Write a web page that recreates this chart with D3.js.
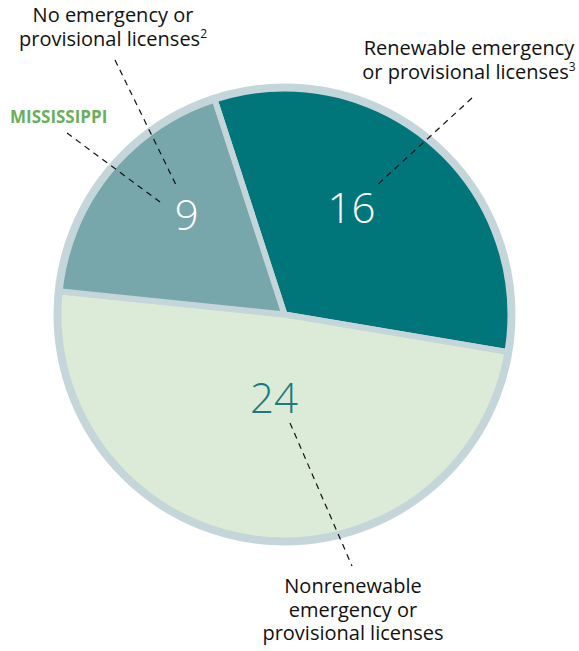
<!DOCTYPE html>
<html>
<head>
<meta charset="utf-8">
<script src="https://cdn.jsdelivr.net/npm/d3@7"></script>
<style>
  html, body { margin: 0; padding: 0; background: #ffffff; }
  svg { display: block; }
  text { font-family: "Open Sans", "Noto Sans", sans-serif; }
</style>
</head>
<body>
<svg id="chart" width="579" height="651"></svg>
<script>
// ---- data ----
const categories = [
  "Renewable emergency or provisional licenses",
  "Nonrenewable emergency or provisional licenses",
  "No emergency or provisional licenses"
];
const values = [16, 24, 9];
const sliceColors = ["#00757a", "#dcebd7", "#77a6ab"];
const valueColors = ["#ffffff", "#1a7a80", "#ffffff"];
const stateName = "MISSISSIPPI";

// ---- layout ----
const W = 579, H = 651;
const cx = 284.5, cy = 314.5;
const R = 227;           // radius of the fill + ring centre
const ringW = 8;
const ringColor = "#c5d6db";

const svg = d3.select("#chart");
const g = svg.append("g").attr("transform", `translate(${cx},${cy})`);

const pie = d3.pie().sort(null).value(d => d)
  .startAngle(-18 * Math.PI / 180)
  .endAngle(2 * Math.PI - 18 * Math.PI / 180);
const arcs = pie(values);
const arc = d3.arc().innerRadius(0).outerRadius(R);

g.selectAll("path.slice")
  .data(arcs)
  .enter().append("path")
  .attr("class", "slice")
  .attr("d", arc)
  .attr("fill", (d, i) => sliceColors[i])
  .attr("stroke", ringColor)
  .attr("stroke-width", 6)
  .attr("stroke-linejoin", "round");

// outer ring
g.append("circle")
  .attr("r", R)
  .attr("fill", "none")
  .attr("stroke", ringColor)
  .attr("stroke-width", ringW);

// value labels: placed along each slice at a chosen angle offset/radius
const labelPlace = [
  { da: -8.6, r: 126 },
  { da: -0.5, r: 84 },
  { da: 6.7, r: 140 }
];
arcs.forEach((d, i) => {
  const mid = (d.startAngle + d.endAngle) / 2 + labelPlace[i].da * Math.PI / 180;
  const x = Math.sin(mid) * labelPlace[i].r;
  const y = -Math.cos(mid) * labelPlace[i].r;
  g.append("text")
    .attr("x", x)
    .attr("y", y)
    .attr("dy", "0.36em")
    .attr("text-anchor", "middle")
    .attr("font-size", 42)
    .attr("font-weight", 300)
    .attr("fill", valueColors[i])
    .text(values[i]);
});

// leader lines (dashed)
const leaders = [
  [[472, 98], [375, 187]],
  [[290, 423], [352, 566]],
  [[115, 60], [177, 187]],
  [[67, 133], [160, 202]]
];
svg.selectAll("line.leader")
  .data(leaders)
  .enter().append("line")
  .attr("class", "leader")
  .attr("x1", d => d[0][0]).attr("y1", d => d[0][1])
  .attr("x2", d => d[1][0]).attr("y2", d => d[1][1])
  .attr("stroke", "#111")
  .attr("stroke-width", 1.2)
  .attr("stroke-dasharray", "6,5");

// category labels
function multiline(x, y0, lines, sup) {
  const t = svg.append("text")
    .attr("text-anchor", "middle")
    .attr("font-size", 20)
    .attr("fill", "#111");
  lines.forEach((ln, k) => {
    const ts = t.append("tspan").attr("x", x).attr("y", y0 + k * 23.5).text(ln);
    if (sup && k === lines.length - 1) {
      t.append("tspan").attr("font-size", 12).attr("dy", -8).text(sup);
    }
  });
  return t;
}
multiline(113, 22, ["No emergency or", "provisional licenses"], "2");
multiline(469, 55, ["Renewable emergency", "or provisional licenses"], "3");
multiline(353, 593, ["Nonrenewable", "emergency or", "provisional licenses"], null);

svg.append("text")
  .attr("x", 10)
  .attr("y", 123)
  .attr("font-size", 17)
  .attr("font-weight", 700)
  .attr("fill", "#6aaf5c")
  .text(stateName);
</script>
</body>
</html>
